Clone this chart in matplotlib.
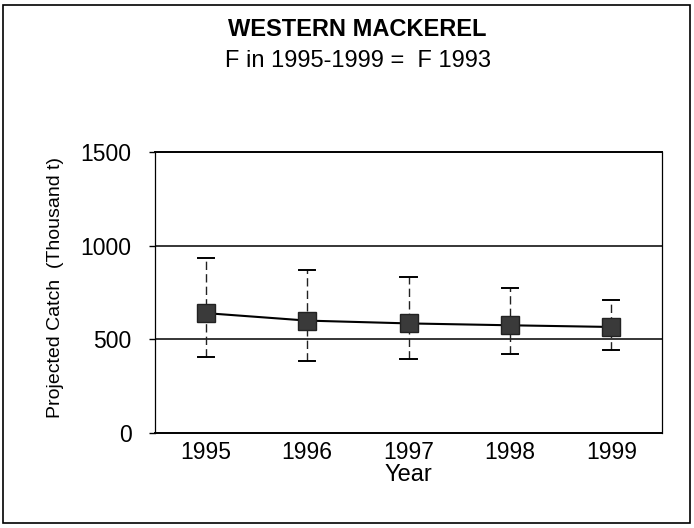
#!/usr/bin/env python3
"""Western mackerel projected catch, F in 1995-1999 = F 1993."""
import matplotlib

matplotlib.use("Agg")
import matplotlib.pyplot as plt
from matplotlib.patches import Rectangle

YEARS = [1995, 1996, 1997, 1998, 1999]
CATCH = [640, 600, 585, 575, 566]
UPPER = [936, 872, 831, 772, 710]
LOWER = [407, 386, 395, 420, 443]

plt.rcParams.update({
    "font.family": ["Liberation Sans", "DejaVu Sans"],
})

W, H = 694, 528
fig = plt.figure(figsize=(W / 100, H / 100), dpi=100)
ax = fig.add_axes([155 / W, 1 - 433 / H, (662 - 155) / W, (433 - 152) / H])

# outer frame of the panel
fig.patches.append(Rectangle((3 / W, 5 / H), 687 / W, 518 / H,
                             transform=fig.transFigure, fill=False,
                             edgecolor="black", linewidth=1.2))

# error bars: broken vertical line with solid caps
for yr, lo, hi in zip(YEARS, LOWER, UPPER):
    ax.plot([yr, yr], [lo, hi], color="#222222", linewidth=1.0,
            linestyle=(0, (6, 3)), zorder=2)
    ax.plot([yr - 0.08, yr + 0.08], [hi, hi], color="black", linewidth=1.4, zorder=2)
    ax.plot([yr - 0.08, yr + 0.08], [lo, lo], color="black", linewidth=1.4, zorder=2)

ax.plot(YEARS, CATCH, color="black", linewidth=1.5, marker="s",
        markersize=13, markerfacecolor="#3a3a3a", markeredgecolor="#222222",
        zorder=3)

ax.set_xlim(1994.5, 1999.5)
ax.set_ylim(0, 1500)
ax.set_yticks([0, 500, 1000, 1500])
ax.set_xticks(YEARS)
ax.tick_params(axis="both", labelsize=16.5, width=1.0, direction="out")
ax.tick_params(axis="y", length=4, pad=13)
ax.tick_params(axis="x", length=0, pad=6)
for y in (500, 1000):
    ax.axhline(y, color="black", linewidth=1.1, zorder=1)
for side in ("top", "bottom"):
    ax.spines[side].set_linewidth(1.4)
for side in ("left", "right"):
    ax.spines[side].set_linewidth(0.9)

ax.set_xlabel("Year", fontsize=17, labelpad=0)
ax.set_ylabel("Projected Catch  (Thousand t)", fontsize=14)
ax.yaxis.set_label_coords(64 / W, 1 - 288 / H, transform=fig.transFigure)

fig.text(357 / W, 1 - 29 / H, "WESTERN MACKEREL", ha="center", va="center",
         fontsize=17, fontweight="bold")
fig.text(358 / W, 1 - 61 / H, "F in 1995-1999 =  F 1993", ha="center", va="center",
         fontsize=17)

fig.savefig("out.png", dpi=100)
